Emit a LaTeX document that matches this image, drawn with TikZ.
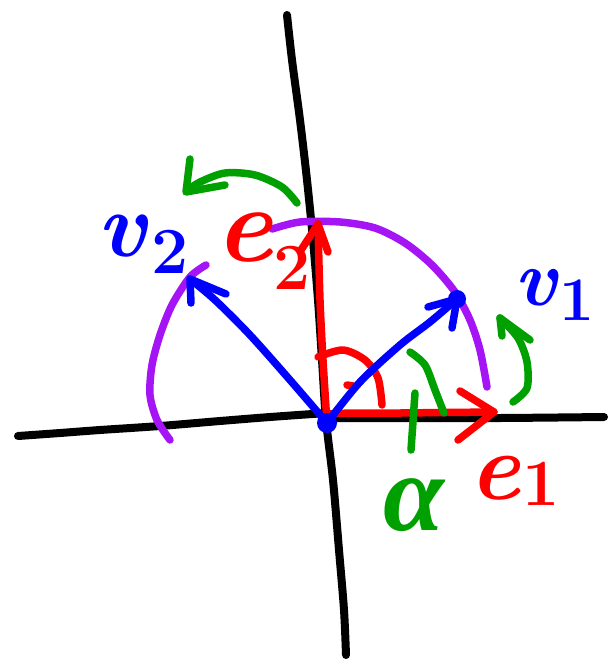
\documentclass[tikz,border=0pt]{standalone}
\usepackage{fontspec}
\newfontfamily\greekhand{Liberation Serif}
\begin{document}
\begin{tikzpicture}[x=1pt,y=-1pt,line cap=round,line join=round,
  pen/.style={line width=7.5pt},
  axispen/.style={pen,black,line width=8pt},
  redpen/.style={pen,color=penred},
  bluepen/.style={pen,color=penblue},
  purplepen/.style={pen,color=penpurple},
  greenpen/.style={pen,color=pengreen},
  letter/.style={inner sep=0pt,font=\fontsize{#1}{#1}\selectfont\bfseries\itshape},
  digit/.style={inner sep=0pt,font=\fontsize{#1}{#1}\selectfont\bfseries}]
\definecolor{penred}{RGB}{255,0,0}
\definecolor{penblue}{RGB}{0,0,255}
\definecolor{penpurple}{RGB}{165,20,245}
\definecolor{pengreen}{RGB}{0,160,0}
\useasboundingbox (0,0) rectangle (616,662);
\fill[white] (0,0) rectangle (616,662);

% key points
\coordinate (O) at (327,423);
\coordinate (v1) at (457,299);
\coordinate (v2) at (190,279);
\coordinate (e1) at (494,412);
\coordinate (e2) at (318,224);

% axes
\draw[axispen] plot[smooth] coordinates {(18,436) (60,433) (100,430) (160,426) (220,421) (270,417) (327,413)};
\draw[axispen] plot[smooth] coordinates {(330,418) (400,418) (500,418) (604,417)};
\draw[axispen] plot[smooth] coordinates {(287,15) (292,60) (300,120) (307,180) (313,240) (318,300) (322,360) (326,420) (333,480) (339,550) (344,610) (346,655)};

% purple arcs
\draw[purplepen] plot[smooth] coordinates {(272,229) (300,222) (340,222) (375,228) (405,243) (432,265) (455,292) (470,320) (480,350) (487,387)};
\draw[purplepen] plot[smooth] coordinates {(206,265) (190,277) (172,305) (160,335) (152,365) (150,395) (157,420) (170,440)};

% red basis vectors
\draw[redpen] plot[smooth] coordinates {(O) (330,414) (400,413) (e1)};
\draw[redpen] (460,391) -- (e1) -- (458,440);
\draw[redpen] plot[smooth] coordinates {(O) (323,360) (320,300) (e2)};
\draw[redpen] (301,250) -- (e2) -- (328,252);
% right angle mark
\draw[redpen] plot[smooth] coordinates {(318,357) (343,350) (365,360) (378,378) (382,405)};
\draw[redpen] (347,385) -- (353,386);

% blue vectors
\draw[bluepen] plot[smooth] coordinates {(O) (360,382) (400,345) (430,322) (v1)};
\draw[bluepen] (428,307) -- (v1) -- (452,328);
\fill[penblue] (v1) circle (9);
\draw[bluepen] plot[smooth] coordinates {(O) (290,380) (250,335) (215,300) (v2)};
\draw[bluepen] (226,294) -- (v2) -- (191,303);
\fill[penblue] (O) circle (10);

% green rotation arrows
\draw[greenpen] plot[smooth] coordinates {(297,203) (282,187) (255,175) (225,173) (200,182) (188,190)};
\draw[greenpen] (190,159) -- (186,192) -- (225,185);
\draw[greenpen] plot[smooth] coordinates {(513,402) (527,388) (527,362) (518,338) (500,318)};
\draw[greenpen] (502,336) -- (500,318) -- (530,340);
% angle alpha
\draw[greenpen] plot[smooth] coordinates {(410,352) (425,365) (435,390) (444,413)};
\draw[greenpen] (415,393) -- (411,450);

% labels
\node[letter=92,text=penblue] (lv2) at (122,236) {v};
\node[digit=66,text=penblue] (lv2i) at (170,252) {2};
\node[letter=108,text=penred] (le2) at (244,238) {e};
\node[digit=66,text=penred] (le2i) at (292,268) {2};
\node[letter=80,text=penblue] (lv1) at (536,288) {v};
\node[digit=62,text=penblue] (lv1i) at (577,300) {1};
\node[letter=96,text=penred] (le1) at (495,478) {e};
\node[digit=66,text=penred] (le1i) at (541,484) {1};
\node[text=pengreen,inner sep=0pt,font=\fontsize{110}{110}\selectfont\greekhand\bfseries\itshape] (lal) at (414,505) {α};
\end{tikzpicture}
\end{document}
